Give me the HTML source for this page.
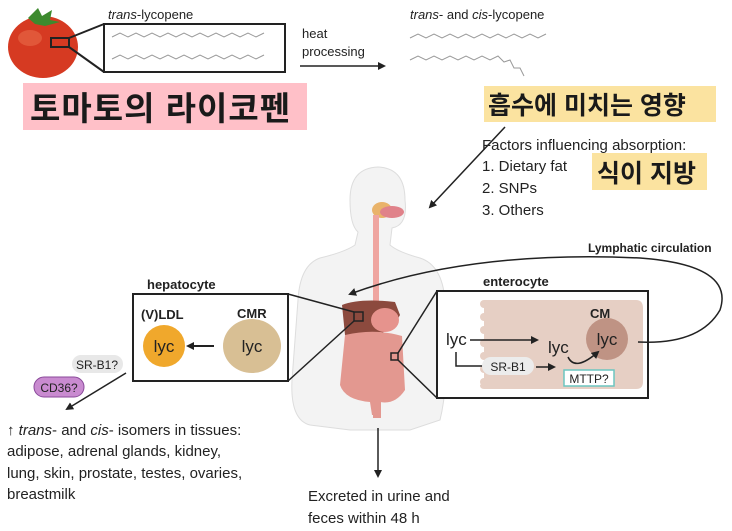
<!DOCTYPE html>
<html><head><meta charset="utf-8"><style>
body{margin:0;background:#fff;width:732px;height:531px;overflow:hidden}
svg{display:block}
text{font-family:"Liberation Sans",sans-serif;fill:#222}
.k{font-family:"Liberation Sans","Noto Sans CJK KR",sans-serif;font-weight:bold;fill:#1a1a1a}
</style></head><body>
<svg width="732" height="531" viewBox="0 0 732 531">
<defs><marker id="a" markerWidth="8" markerHeight="8" refX="6" refY="4" orient="auto" markerUnits="userSpaceOnUse"><path d="M0,0 L8,4 L0,8 z" fill="#222"/></marker></defs>
<!-- tomato -->
<ellipse cx="43" cy="47" rx="35" ry="31" fill="#d63a22"/>
<ellipse cx="30" cy="38" rx="12" ry="8" fill="#e86a4a" opacity=".6"/>
<path d="M28,18 L38,8 L42,16 L52,10 L50,20 L60,22 L45,26 L35,24 Z" fill="#3d8a2e"/>
<rect x="51" y="38" width="18" height="9" fill="none" stroke="#222" stroke-width="2"/>
<line x1="69" y1="38" x2="104" y2="24" stroke="#222" stroke-width="2"/>
<line x1="69" y1="47" x2="104" y2="72" stroke="#222" stroke-width="2"/>
<rect x="104" y="24" width="181" height="48" fill="#fff" stroke="#222" stroke-width="2"/>
<path d="M112,37 l8,-4 8,4 8,-4 8,4 8,-4 8,4 8,-4 8,4 8,-4 8,4 8,-4 8,4 8,-4 8,4 8,-4 8,4 8,-4 8,4 8,-4" fill="none" stroke="#999"/>
<path d="M112,59 l8,-4 8,4 8,-4 8,4 8,-4 8,4 8,-4 8,4 8,-4 8,4 8,-4 8,4 8,-4 8,4 8,-4 8,4 8,-4 8,4 8,-4" fill="none" stroke="#999"/>
<text x="108" y="19" font-size="13"><tspan font-style="italic">trans</tspan>-lycopene</text>
<text x="302" y="38" font-size="13">heat</text>
<text x="302" y="56" font-size="13">processing</text>
<line x1="300" y1="66" x2="384" y2="66" stroke="#222" stroke-width="1.5" marker-end="url(#a)"/>
<text x="410" y="19" font-size="13"><tspan font-style="italic">trans</tspan>- and <tspan font-style="italic">cis</tspan>-lycopene</text>
<path d="M410,38 l8,-4 8,4 8,-4 8,4 8,-4 8,4 8,-4 8,4 8,-4 8,4 8,-4 8,4 8,-4 8,4 8,-4 8,4 8,-4" fill="none" stroke="#999"/>
<path d="M410,60 l8,-4 8,4 8,-4 8,4 8,-4 8,4 8,-4 8,4 8,-4 8,4 8,-4 l6,6 6,-2 4,8 6,0 4,8" fill="none" stroke="#999"/>
<rect x="23" y="83" width="284" height="47" fill="#ffc0c8"/>
<text x="30" y="120" font-size="33" class="k" letter-spacing="1">토마토의 라이코펜</text>
<rect x="484" y="86" width="232" height="36" fill="#fbe3a0"/>
<text x="488" y="114" font-size="25" class="k">흡수에 미치는 영향</text>
<line x1="505" y1="127" x2="430" y2="207" stroke="#222" stroke-width="1.5" marker-end="url(#a)"/>
<text x="482" y="150" font-size="15">Factors influencing absorption:</text>
<text x="482" y="171" font-size="15">1. Dietary fat</text>
<text x="482" y="193" font-size="15">2. SNPs</text>
<text x="482" y="215" font-size="15">3. Others</text>
<rect x="592" y="153" width="115" height="37" fill="#fbe3a0"/>
<text x="597" y="182" font-size="25" class="k">식이 지방</text>
<!-- body -->
<path d="M355,245 Q345,252 320,258 Q300,265 298,300 L292,380 Q290,420 310,425 L350,430 L410,430 L440,420 Q450,380 445,300 Q442,265 420,258 Q398,252 390,245 L392,228 Q408,225 405,200 Q405,168 378,167 Q350,168 350,200 Q350,225 358,232 Z" fill="#f3f3f3" stroke="#ddd"/>
<ellipse cx="382" cy="210" rx="10" ry="8" fill="#e9b36a"/>
<ellipse cx="392" cy="212" rx="12" ry="6" fill="#e0828a"/>
<path d="M373,215 L373,305 L379,305 L379,215 Z" fill="#efa5a0"/>
<path d="M342,305 Q360,298 395,302 L400,315 Q390,335 360,340 L345,335 Z" fill="#8c4a3e"/>
<ellipse cx="385" cy="320" rx="14" ry="12" fill="#e6938d"/>
<path d="M345,335 Q375,328 402,336 L405,390 Q395,405 380,402 L378,415 L372,415 L370,402 Q345,400 340,385 Z" fill="#e39890"/>
<rect x="373" y="400" width="8" height="18" fill="#e39890"/>
<rect x="354" y="312" width="9" height="9" fill="none" stroke="#222" stroke-width="1.5"/>
<rect x="391" y="353" width="7" height="7" fill="none" stroke="#222" stroke-width="1.5"/>
<!-- hepatocyte -->
<text x="147" y="289" font-size="13" font-weight="bold">hepatocyte</text>
<line x1="288" y1="294" x2="354" y2="312" stroke="#222" stroke-width="1.5"/>
<line x1="288" y1="381" x2="354" y2="321" stroke="#222" stroke-width="1.5"/>
<rect x="133" y="294" width="155" height="87" fill="#fff" stroke="#222" stroke-width="2"/>
<text x="141" y="319" font-size="13" font-weight="bold">(V)LDL</text>
<text x="237" y="318" font-size="13" font-weight="bold">CMR</text>
<circle cx="164" cy="346" r="21" fill="#f0a82c"/>
<text x="164" y="352" font-size="17" text-anchor="middle">lyc</text>
<ellipse cx="252" cy="346" rx="29" ry="27" fill="#d8bf94"/>
<text x="252" y="352" font-size="17" text-anchor="middle">lyc</text>
<line x1="214" y1="346" x2="188" y2="346" stroke="#222" stroke-width="2" marker-end="url(#a)"/>
<rect x="72" y="355" width="51" height="18" rx="9" fill="#e8e8e8"/>
<text x="97" y="369" font-size="12" text-anchor="middle">SR-B1?</text>
<rect x="34" y="377" width="50" height="20" rx="10" fill="#c98bd0" stroke="#8a4a9a"/>
<text x="59" y="392" font-size="12" text-anchor="middle">CD36?</text>
<line x1="126" y1="373" x2="67" y2="409" stroke="#222" stroke-width="1.5" marker-end="url(#a)"/>
<text x="7" y="435" font-size="15">↑ <tspan font-style="italic">trans</tspan>- and <tspan font-style="italic">cis</tspan>- isomers in tissues:</text>
<text x="7" y="456" font-size="15">adipose, adrenal glands, kidney,</text>
<text x="7" y="478" font-size="15">lung, skin, prostate, testes, ovaries,</text>
<text x="7" y="499" font-size="15">breastmilk</text>
<line x1="378" y1="428" x2="378" y2="476" stroke="#222" stroke-width="1.5" marker-end="url(#a)"/>
<text x="308" y="501" font-size="15">Excreted in urine and</text>
<text x="308" y="523" font-size="15">feces within 48 h</text>
<!-- enterocyte -->
<text x="483" y="286" font-size="13" font-weight="bold">enterocyte</text>
<line x1="398" y1="353" x2="437" y2="291" stroke="#222" stroke-width="1.5"/>
<line x1="398" y1="360" x2="437" y2="398" stroke="#222" stroke-width="1.5"/>
<rect x="437" y="291" width="211" height="107" fill="#fff" stroke="#222" stroke-width="2"/>
<path d="M484,300 L636,300 Q643,300 643,308 L643,382 Q643,389 636,389 L484,389 Q480,389 480,385 L484,382 L484,300 Z" fill="#e6cfc4"/>
<g fill="#e6cfc4"><rect x="480" y="300" width="12" height="8" rx="4"/><rect x="480" y="313" width="12" height="8" rx="4"/><rect x="480" y="326" width="12" height="8" rx="4"/><rect x="480" y="339" width="12" height="8" rx="4"/><rect x="480" y="352" width="12" height="8" rx="4"/><rect x="480" y="365" width="12" height="8" rx="4"/><rect x="480" y="378" width="12" height="8" rx="4"/></g>
<text x="590" y="318" font-size="13" font-weight="bold">CM</text>
<circle cx="607" cy="339" r="21" fill="#bf9384"/>
<text x="607" y="345" font-size="17" text-anchor="middle">lyc</text>
<text x="446" y="345" font-size="17">lyc</text>
<line x1="470" y1="340" x2="537" y2="340" stroke="#222" stroke-width="1.5" marker-end="url(#a)"/>
<text x="548" y="353" font-size="17">lyc</text>
<path d="M456,352 L456,366 L484,366" fill="none" stroke="#222" stroke-width="1.5"/>
<rect x="482" y="357" width="52" height="18" rx="9" fill="#ececec"/>
<text x="508" y="371" font-size="12" text-anchor="middle">SR-B1</text>
<line x1="536" y1="367" x2="554" y2="367" stroke="#222" stroke-width="1.5" marker-end="url(#a)"/>
<path d="M568,357 Q575,372 598,352" fill="none" stroke="#222" stroke-width="1.5" marker-end="url(#a)"/>
<rect x="564" y="370" width="50" height="16" fill="#fff" stroke="#6cc6c0" stroke-width="1.5"/>
<text x="589" y="383" font-size="12" text-anchor="middle">MTTP?</text>
<path d="M638,342 Q700,345 720,310 Q735,265 640,258 Q470,250 350,294" fill="none" stroke="#222" stroke-width="1.5" marker-end="url(#a)"/>
<text x="588" y="252" font-size="12" font-weight="bold">Lymphatic circulation</text>
</svg>
</body></html>
